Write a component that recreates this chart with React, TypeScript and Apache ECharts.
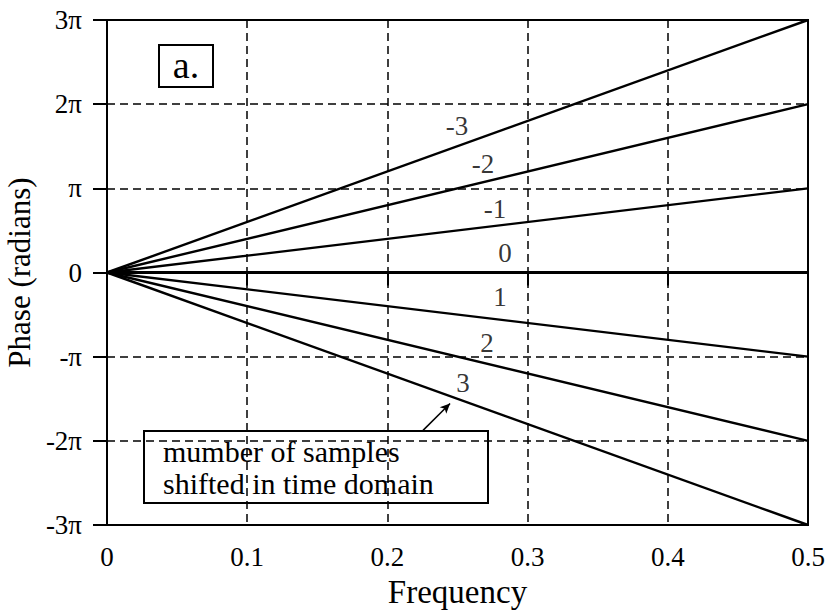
import React, { useEffect, useRef } from "react";
import * as echarts from "echarts";

// Linear phase for a signal shifted by k samples: phase = -2*pi*k*f
const shifts = [-3, -2, -1, 0, 1, 2, 3];
const freqEnds = [0, 0.5];
// phase at f = 0.5, in units of pi
const phaseAtHalf = [3, 2, 1, 0, -1, -2, -3];
// where each shift number is written (frequency, phase in units of pi)
const labelFreq = [0.2497, 0.2682, 0.2767, 0.2839, 0.2803, 0.271, 0.2539];
const labelPhase = [1.746, 1.295, 0.76, 0.226, -0.297, -0.843, -1.318];
// arrow from the caption to the k = 3 line
const arrowFrom = [0.2254, -1.876];
const arrowTo = [0.2447, -1.556];
const yTickLabels: Record<string, string> = {
  "-3": "-3π",
  "-2": "-2π",
  "-1": "-π",
  "0": "0",
  "1": "π",
  "2": "2π",
  "3": "3π",
};

const FONT = "'Liberation Serif', 'Times New Roman', serif";

export default function App() {
  const ref = useRef<HTMLDivElement>(null);

  useEffect(() => {
    document.body.style.margin = "0";
    const chart = echarts.init(ref.current!, null, { renderer: "svg" });

    const lineSeries = shifts.map((k, i) => ({
      type: "line" as const,
      name: String(k),
      data: [
        [freqEnds[0], 0],
        [freqEnds[1], phaseAtHalf[i]],
      ],
      symbol: "none",
      z: k === 0 ? 4 : 3,
      lineStyle: { color: "#000", width: k === 0 ? 3 : 2.4 },
    }));

    chart.setOption({
      animation: false,
      backgroundColor: "#fff",
      textStyle: { fontFamily: FONT, color: "#000" },
      grid: {
        left: 107,
        right: 24,
        top: 20,
        bottom: 89,
        containLabel: false,
        outerBoundsMode: "none",
        show: true,
        borderColor: "#000",
        borderWidth: 2,
      },
      xAxis: {
        type: "value",
        min: 0,
        max: 0.5,
        interval: 0.1,
        name: "Frequency",
        nameLocation: "middle",
        nameGap: 50,
        nameTextStyle: { fontFamily: FONT, fontSize: 33, color: "#000" },
        axisLine: { show: true, lineStyle: { color: "#000", width: 2 } },
        axisTick: { show: true, inside: false, length: 13, lineStyle: { color: "#000", width: 2 } },
        axisLabel: {
          margin: 18,
          fontFamily: FONT,
          fontSize: 27,
          color: "#000",
        },
        splitLine: {
          show: true,
          lineStyle: { color: "#000", width: 1.5, type: [8, 5] },
        },
      },
      yAxis: {
        type: "value",
        min: -3,
        max: 3,
        interval: 1,
        name: "Phase (radians)",
        nameLocation: "middle",
        nameGap: 65,
        nameTextStyle: { fontFamily: FONT, fontSize: 31, color: "#000" },
        axisLine: { show: true, lineStyle: { color: "#000", width: 2 } },
        axisTick: { show: true, inside: false, length: 14, lineStyle: { color: "#000", width: 2 } },
        axisLabel: {
          margin: 25,
          fontFamily: FONT,
          fontSize: 27,
          color: "#000",
          formatter: (v: number) => yTickLabels[String(v)] ?? String(v),
        },
        splitLine: {
          show: true,
          lineStyle: { color: "#000", width: 1.5, type: [8, 5] },
        },
      },
      series: [
        ...lineSeries,
        {
          type: "scatter",
          symbolSize: 0,
          z: 5,
          data: shifts.map((k, i) => [labelFreq[i], labelPhase[i], String(k)]),
          label: {
            show: true,
            position: "inside",
            formatter: (p: any) => p.value[2],
            fontFamily: FONT,
            fontSize: 27,
            color: "#000",
          },
          markLine: {
            silent: true,
            symbol: ["none", "arrow"],
            symbolSize: [7, 10],
            label: { show: false },
            lineStyle: { color: "#000", width: 1.5, type: "solid" },
            data: [[{ coord: arrowFrom }, { coord: arrowTo }]],
          },
        },
      ],
      graphic: [
        {
          type: "group",
          left: 158,
          top: 44,
          z: 10,
          children: [
            {
              type: "rect",
              shape: { x: 0, y: 0, width: 54, height: 42 },
              style: { fill: "#fff", stroke: "#000", lineWidth: 2 },
            },
            {
              type: "text",
              x: 27,
              y: 20,
              style: {
                text: "a.",
                font: "38px 'Liberation Serif', serif",
                fill: "#000",
                align: "center",
                verticalAlign: "middle",
              },
            },
          ],
        },
        {
          type: "group",
          left: 143,
          top: 430,
          z: 10,
          children: [
            {
              type: "rect",
              shape: { x: 0, y: 0, width: 344, height: 72 },
              style: { fill: "#fff", stroke: "#000", lineWidth: 2 },
            },
            {
              type: "text",
              x: 19,
              y: 20,
              style: {
                text: "mumber of samples",
                font: "30px 'Liberation Serif', serif",
                fill: "#000",
                verticalAlign: "middle",
              },
            },
            {
              type: "text",
              x: 19,
              y: 52,
              style: {
                text: "shifted in time domain",
                font: "30px 'Liberation Serif', serif",
                fill: "#000",
                verticalAlign: "middle",
              },
            },
          ],
        },
      ],
    });

    return () => chart.dispose();
  }, []);

  return (
    <div
      ref={ref}
      style={{ position: "absolute", left: 0, top: 0, width: 832, height: 614 }}
    />
  );
}
